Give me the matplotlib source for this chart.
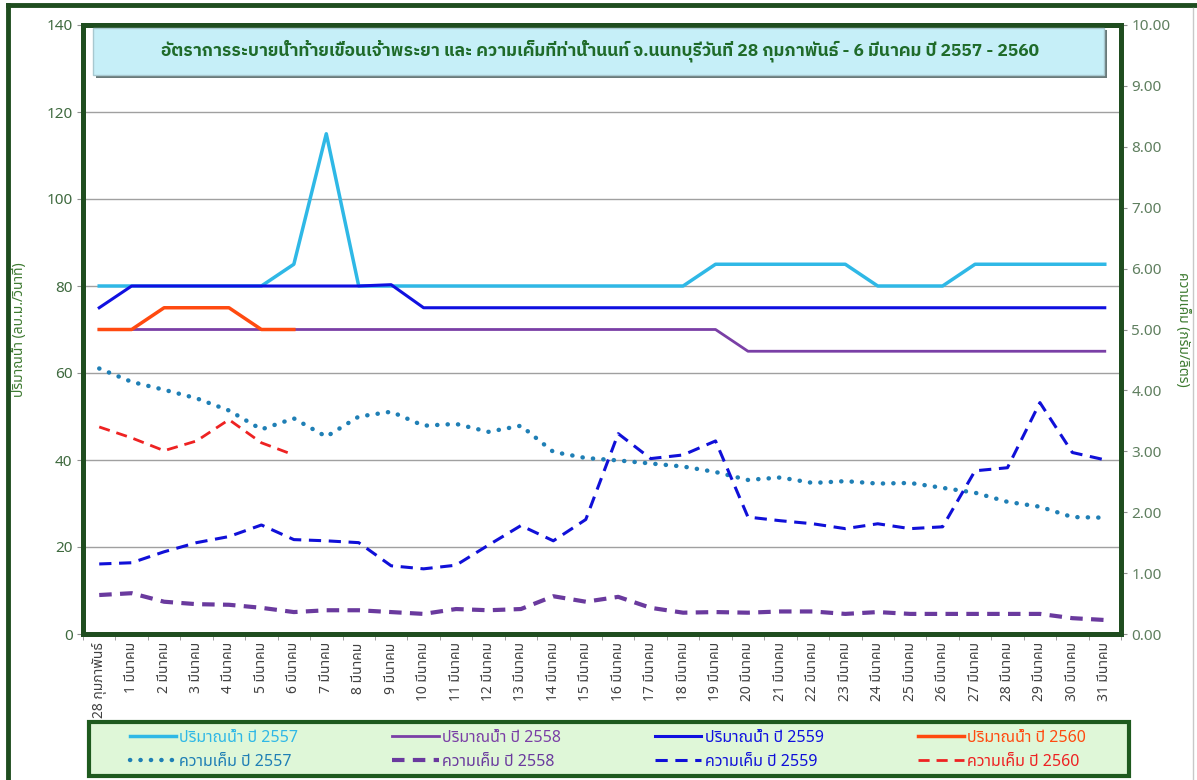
import numpy as np
import matplotlib
matplotlib.use("Agg")
import matplotlib.pyplot as plt
from matplotlib.lines import Line2D
from matplotlib.patches import Rectangle

plt.rcParams['font.family'] = ['Noto Sans Thai', 'IBM Plex Sans Thai', 'Sarabun', 'DejaVu Sans']

# x-axis categories: 28 Feb + 1..31 March
days = ['28 กุมภาพันธ์'] + ['%d มีนาคม' % d for d in range(1, 32)]

# discharge (m3/s), left axis
flow_2557 = [80, 80, 80, 80, 80, 80, 85, 115, 80, 80, 80, 80, 80, 80, 80, 80,
             80, 80, 80, 85, 85, 85, 85, 85, 80, 80, 80, 85, 85, 85, 85, 85]
flow_2558 = [70] * 20 + [65] * 12
flow_2559 = [75, 80, 80, 80, 80, 80, 80, 80, 80, 80.3, 75, 75, 75, 75, 75, 75,
             75, 75, 75, 75, 75, 75, 75, 75, 75, 75, 75, 75, 75, 75, 75, 75]
flow_2560 = [70, 70, 75, 75, 75, 70, 70]

# salinity (g/L), right axis
sal_2557 = [4.36, 4.14, 4.01, 3.87, 3.67, 3.36, 3.54, 3.24, 3.57, 3.65, 3.42, 3.45,
            3.32, 3.42, 2.99, 2.89, 2.85, 2.80, 2.75, 2.66, 2.53, 2.57, 2.48, 2.51,
            2.47, 2.48, 2.40, 2.32, 2.17, 2.09, 1.92, 1.91]
sal_2558 = [0.64, 0.67, 0.53, 0.49, 0.48, 0.43, 0.36, 0.39, 0.39, 0.36, 0.33, 0.41,
            0.39, 0.41, 0.62, 0.53, 0.61, 0.43, 0.35, 0.36, 0.35, 0.37, 0.37, 0.33,
            0.36, 0.33, 0.33, 0.33, 0.33, 0.33, 0.26, 0.23]
sal_2559 = [1.15, 1.17, 1.35, 1.50, 1.60, 1.79, 1.55, 1.53, 1.50, 1.12, 1.07, 1.13,
            1.46, 1.78, 1.53, 1.88, 3.29, 2.88, 2.94, 3.17, 1.92, 1.86, 1.81, 1.73,
            1.81, 1.73, 1.76, 2.68, 2.73, 3.80, 2.98, 2.86]
sal_2560 = [3.40, 3.22, 3.01, 3.17, 3.52, 3.14, 2.94]

title = 'อัตราการระบายน้ำท้ายเขื่อนเจ้าพระยา และ ความเค็มที่ท่าน้ำนนท์ จ.นนทบุรีวันที่ 28 กุมภาพันธ์ - 6 มีนาคม ปี 2557 - 2560'

green = '#1f4d1f'
x = np.arange(len(days))

fig = plt.figure(figsize=(11.97, 7.8), dpi=100)
# outer frame (left and top edges show, the rest is cropped off)
fig.add_artist(Line2D([0.007, 0.007], [0.0, 0.993], transform=fig.transFigure,
                      color=green, lw=3.5))
fig.add_artist(Line2D([0.007, 1.0], [0.993, 0.993], transform=fig.transFigure,
                      color=green, lw=3.5))
fig.add_artist(Line2D([0.997, 0.997], [0.0, 0.99], transform=fig.transFigure,
                      color='#c8c8c8', lw=1))

ax = fig.add_axes([83 / 1197, 1 - 634 / 780, (1121 - 83) / 1197, (634 - 25) / 780])
ax2 = ax.twinx()

ax.plot(x, flow_2557, color='#2fb8e6', lw=2.5, label='ปริมาณน้ำ ปี 2557', zorder=3)
ax.plot(x, flow_2558, color='#7a3fa6', lw=2, label='ปริมาณน้ำ ปี 2558', zorder=3)
ax.plot(x, flow_2559, color='#1010e0', lw=2.2, label='ปริมาณน้ำ ปี 2559', zorder=3)
ax.plot(np.arange(len(flow_2560)), flow_2560, color='#ff4a10', lw=2.5,
        label='ปริมาณน้ำ ปี 2560', zorder=3)

ax2.plot(x, sal_2557, color='#1f7fb5', lw=3.2, ls=(0, (0.05, 2.3)),
         dash_capstyle='round', label='ความเค็ม ปี 2557')
ax2.plot(x, sal_2558, color='#6a3a9e', lw=3, ls=(0, (3, 2)), label='ความเค็ม ปี 2558')
ax2.plot(x, sal_2559, color='#1010d8', lw=2.2, ls=(0, (4, 2.5)), label='ความเค็ม ปี 2559')
ax2.plot(np.arange(len(sal_2560)), sal_2560, color='#ee2222', lw=2, ls=(0, (4, 2.5)),
         label='ความเค็ม ปี 2560')

ax.set_xlim(-0.5, len(days) - 0.5)
ax.set_ylim(0, 140)
ax.set_yticks(np.arange(0, 141, 20))
ax2.set_ylim(0, 10)
ax2.set_yticks(np.arange(0, 10.1, 1))
ax2.set_yticklabels(['%.2f' % v for v in np.arange(0, 10.1, 1)])

ax.grid(axis='y', color='#a0a0a0', lw=1)
ax.set_axisbelow(True)
ax.set_xticks(x)
ax.set_xticklabels(days, rotation=90, fontsize=10, color='#404040')
ax.set_xticks(np.arange(-0.5, len(days), 1), minor=True)
ax.tick_params(axis='x', which='major', length=0, pad=6)
ax.tick_params(axis='x', which='minor', length=4, color='#909090')
ax.tick_params(axis='y', labelsize=11, labelcolor='#3f6a3f', length=4, color='#909090')
ax2.tick_params(axis='y', labelsize=11, labelcolor='#5f7f5f', length=4, color='#909090')

for a in (ax, ax2):
    for s in a.spines.values():
        s.set_color(green)
        s.set_linewidth(3.5)

ax.set_ylabel('ปริมาณน้ำ (ลบ.ม./วินาที)', color='#3d7a30', fontsize=10, labelpad=14)
ax2.set_ylabel('ความเค็ม (กรัม/ลิตร)', color='#3d7a30', fontsize=10, rotation=-90, labelpad=14)

# title box with shadow
fig.patches.append(Rectangle((96 / 1197, 1 - 78 / 780), 1011 / 1197, 48 / 780,
                             transform=fig.transFigure, facecolor='#6a7a7a',
                             edgecolor='none', zorder=4))
fig.patches.append(Rectangle((93 / 1197, 1 - 75 / 780), 1011 / 1197, 47 / 780,
                             transform=fig.transFigure, facecolor='#c6eff8',
                             edgecolor='#a8c8d0', linewidth=1, zorder=5))
fig.text(600 / 1197, 1 - 51 / 780, title, ha='center', va='center', fontsize=12.5,
         fontweight='bold', color='#1f6b2a', zorder=6,
         family=['IBM Plex Sans Thai', 'Noto Sans Thai', 'DejaVu Sans'])

# legend box
fig.patches.append(Rectangle((89 / 1197, 1 - 776 / 780), 1040 / 1197, 54 / 780,
                             transform=fig.transFigure, facecolor='#dff7d8',
                             edgecolor='#1e5a1e', linewidth=3, zorder=1))

h1, l1 = ax.get_legend_handles_labels()
h2, l2 = ax2.get_legend_handles_labels()
handles, labels = [], []
for i in range(4):
    handles += [h1[i], h2[i]]
    labels += [l1[i], l2[i]]
leg = fig.legend(handles, labels, ncol=4, loc='center', bbox_to_anchor=(608 / 1197, 1 - 750 / 780),
                 fontsize=11.5, frameon=False, handlelength=2.9,
                 handletextpad=0.2, columnspacing=5.9, borderpad=0.2, labelspacing=0.5,
                 borderaxespad=0)
leg.set_zorder(2)
for t, h in zip(leg.get_texts(), handles):
    t.set_color(h.get_color())

fig.savefig('out.png', dpi=100)
